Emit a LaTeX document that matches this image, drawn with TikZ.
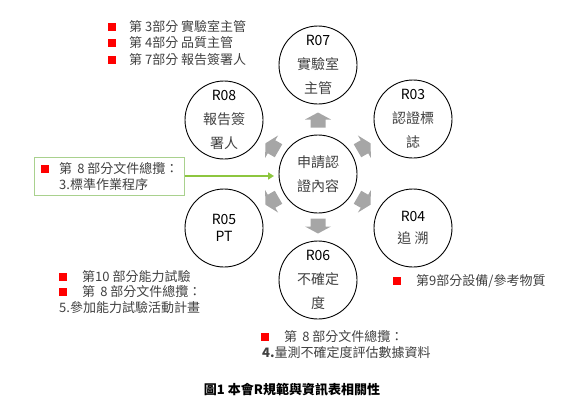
\documentclass[tikz,border=0pt]{standalone}
\usepackage{fontspec}
\setmainfont{Noto Sans CJK TC}
\usetikzlibrary{arrows.meta}
\definecolor{txt}{HTML}{404040}
\definecolor{arrowgray}{HTML}{A6A6A6}
\definecolor{lgreen}{HTML}{8DC63F}
\definecolor{boxgreen}{HTML}{A9D18E}
\begin{document}
\begin{tikzpicture}[x=1pt,y=-1pt,
  circ/.style={circle,draw=black,line width=0.9pt,minimum size=78pt,inner sep=0pt,align=center,
    font=\fontsize{14}{24}\selectfont},
  bul/.style={fill=red,minimum size=7.5pt,inner sep=0pt},
  lst/.style={anchor=west,inner sep=0pt,text=txt,font=\fontsize{13}{15}\selectfont},
  blockarrow/.pic={\fill[arrowgray] (-7.5,-7.5)--(0.5,-7.5)--(0.5,-13)--(7.5,0)--(0.5,13)--(0.5,7.5)--(-7.5,7.5)--cycle;}
]
\useasboundingbox (0,0) rectangle (580,410);
% circles
\node[circ] (c) at (318,174) {\textcolor{txt}{申請認}\\\textcolor{txt}{證內容}};
\node[circ] (r07) at (318,65) {R07\\\textcolor{txt}{實驗室}\\\textcolor{txt}{主管}};
\node[circ] (r03) at (413,119) {R03\\\textcolor{txt}{認證標}\\\textcolor{txt}{誌}};
\node[circ] (r04) at (413,228) {R04\\[-2pt]\textcolor{txt}{追 溯}};
\node[circ] (r06) at (318,280) {R06\\\textcolor{txt}{不確定}\\\textcolor{txt}{度}};
\node[circ] (r05) at (224,228) {R05\\[-7pt]PT};
\node[circ] (r08) at (224,120) {R08\\\textcolor{txt}{報告簽}\\\textcolor{txt}{署人}};
% block arrows
\pic[rotate=90] at (318,120) {blockarrow};
\pic[rotate=-90] at (318,226) {blockarrow};
\pic[rotate=30] at (364,147) {blockarrow};
\pic[rotate=150] at (272,147) {blockarrow};
\pic[rotate=-30] at (364,201) {blockarrow};
\pic[rotate=210] at (272,201) {blockarrow};
% top-left list
\node[bul] (b1) at (112,27) {};
\node[lst] (t1) at (129,27) {第 3部分 實驗室主管};
\node[bul] (b2) at (112,43) {};
\node[lst] (t2) at (129,43) {第 4部分 品質主管};
\node[bul] (b3) at (112,60) {};
\node[lst] (t3) at (129,60) {第 7部分 報告簽署人};
% green box
\node[draw=boxgreen,line width=1pt,minimum width=150pt,minimum height=38pt,inner sep=0pt] (gbox) at (109,176) {};
\node[bul] (gb) at (45,169) {};
\node[lst] (g1) at (59,169) {第 \,8 部分文件總攬：};
\node[lst] (g2) at (59,185) {3.標準作業程序};
\coordinate (gend) at (274,176);
\draw[lgreen,line width=1.5pt,-{Triangle[length=6pt,width=7pt]}] (gbox.east|-gend) -- (gend);
% lower-left list
\node[bul] (l1) at (63,277) {};
\node[lst] (lt1) at (82,277) {第10 部分能力試驗};
\node[bul] (l2) at (63,292) {};
\node[lst] (lt2) at (82,292) {第 \,8 部分文件總攬：};
\node[lst] (lt3) at (59,308) {5.參加能力試驗活動計畫};
% right list
\node[bul] (rb) at (397,281) {};
\node[lst] (rt) at (416,281) {第9部分設備/參考物質};
% bottom middle list
\node[bul] (mb) at (265,337) {};
\node[lst] (mt1) at (284,337) {第 \,8 部分文件總攬：};
\node[lst] (mt2) at (262,353) {\textbf{4.}量測不確定度評估數據資料};
% caption
\node[inner sep=0pt,font=\fontsize{13}{15}\selectfont\bfseries] (cap) at (292,390) {圖1 本會R規範與資訊表相關性};
\end{tikzpicture}
\end{document}
